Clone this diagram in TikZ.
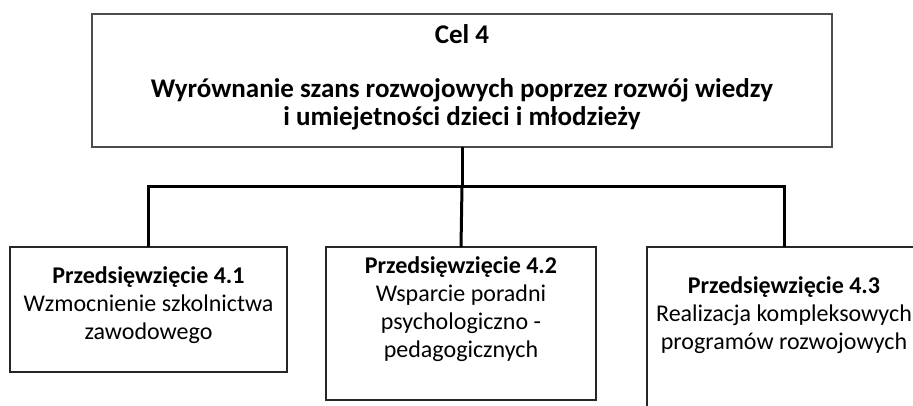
\documentclass[tikz,border=0pt]{standalone}
\usepackage{fontspec}
\setmainfont{Carlito}
\begin{document}
\begin{tikzpicture}[x=1pt,y=-1pt,
  box/.style={draw=black!85, line width=1.3pt, inner sep=0pt, outer sep=0pt},
  topbox/.style={draw=black!70, line width=1.5pt, inner sep=0pt, outer sep=0pt},
  conn/.style={line width=3pt, black},
  txt/.style={align=center, font=\fontsize{24}{28}\selectfont, inner sep=0pt},
  toptxt/.style={align=center, font=\fontsize{27}{28}\selectfont\bfseries, inner sep=0pt, anchor=base}]
\useasboundingbox (0,0) rectangle (913,405);
% boxes
\node[topbox, minimum width=740pt, minimum height=133pt] (cel) at (462,80.5) {};
\node[box, minimum width=277pt, minimum height=125pt] (b41) at (148.5,309.5) {};
\node[box, minimum width=270pt, minimum height=153pt] (b42) at (461,323.5) {};
\node[box, minimum width=274pt, minimum height=180pt] (b43) at (784,337) {};
% texts
\node[toptxt] (tcel) at (462,43) {Cel 4};
\node[toptxt] (tcel2) at (462,125) {Wyrównanie szans rozwojowych poprzez rozwój wiedzy\\ i umiejetności dzieci i młodzieży};
\node[txt] (t41) at (148.5,305.5) {\bfseries Przedsięwzięcie 4.1\\Wzmocnienie szkolnictwa\\zawodowego};
\node[txt] (t42) at (461,309) {\bfseries Przedsięwzięcie 4.2\\Wsparcie poradni\\psychologiczno -\\pedagogicznych};
\node[txt] (t43) at (784,315) {\bfseries Przedsięwzięcie 4.3\\Realizacja kompleksowych\\programów rozwojowych};
% connectors
\coordinate (j) at (462,186);
\draw[conn] (cel.south) -- (j);
\draw[conn] (b41.north) -- (b41.north |- j) -- (b43.north |- j) -- (b43.north);
\draw[conn] (j) -- (b42.north);
\end{tikzpicture}
\end{document}
